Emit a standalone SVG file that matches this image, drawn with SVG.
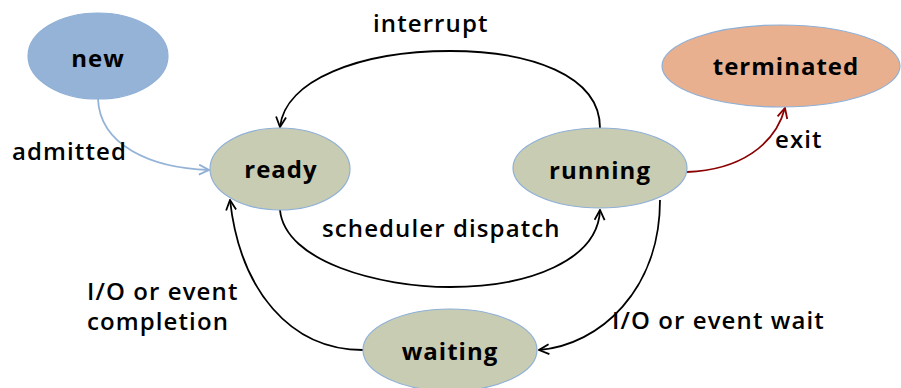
<svg xmlns="http://www.w3.org/2000/svg" width="901" height="388" viewBox="0 0 901 388">
  <style>
    .node { stroke: #8fb0d6; stroke-width: 1.2; }
    .name { font-family: "Comic Sans MS", "Open Sans", "Noto Sans", sans-serif; font-weight: bold; font-size: 24px; letter-spacing: 1px; text-anchor: middle; fill: #000; }
    .lbl { font-family: "Comic Sans MS", "Open Sans", "Noto Sans", sans-serif; font-weight: 600; font-size: 24px; letter-spacing: 1.1px; fill: #000; }
    .edge { fill: none; stroke: #000; stroke-width: 1.8; }
  </style>
  <defs>
    <marker id="arrow" viewBox="0 0 12 12" refX="11" refY="6" markerWidth="12" markerHeight="12" markerUnits="userSpaceOnUse" orient="auto">
      <path d="M1,1 L11,6 L1,11" fill="none" stroke="#000" stroke-width="1.8"/>
    </marker>
    <marker id="arrow-blue" viewBox="0 0 12 12" refX="11" refY="6" markerWidth="12" markerHeight="12" markerUnits="userSpaceOnUse" orient="auto">
      <path d="M1,1 L11,6 L1,11" fill="none" stroke="#8fb0d6" stroke-width="1.8"/>
    </marker>
    <marker id="arrow-red" viewBox="0 0 12 12" refX="11" refY="6" markerWidth="12" markerHeight="12" markerUnits="userSpaceOnUse" orient="auto">
      <path d="M1,1 L11,6 L1,11" fill="none" stroke="#8b0000" stroke-width="1.8"/>
    </marker>
  </defs>
  <rect width="901" height="388" fill="#fff"/>

  <g id="connectors">
    <path class="edge" style="stroke:#95b3d7" d="M98,99 C100,145 150,168 209,170" marker-end="url(#arrow-blue)"/>
    <path class="edge" d="M600,128 C600,75 530,51 450,51 C360,51 285,80 280,127" marker-end="url(#arrow)"/>
    <path class="edge" d="M280,210 C285,262 380,287 450,287 C530,287 598,260 600,210" marker-end="url(#arrow)"/>
    <path class="edge" style="stroke:#8b0000" d="M687,172 C740,170 775,145 785,108" marker-end="url(#arrow-red)"/>
    <path class="edge" d="M660,200 C660,290 600,345 539,350" marker-end="url(#arrow)"/>
    <path class="edge" d="M363,350 C290,350 240,290 230,200" marker-end="url(#arrow)"/>
  </g>

  <g id="node-new">
    <ellipse class="node" cx="98" cy="56" rx="70" ry="43" fill="#95b3d7"/>
    <text class="name" x="98" y="67">new</text>
  </g>
  <g id="node-ready">
    <ellipse class="node" cx="280" cy="169" rx="70" ry="41" fill="#c8ccb3"/>
    <text class="name" x="281" y="178">ready</text>
  </g>
  <g id="node-running">
    <ellipse class="node" cx="600" cy="168" rx="87" ry="40" fill="#c8ccb3"/>
    <text class="name" x="600" y="179">running</text>
  </g>
  <g id="node-terminated">
    <ellipse class="node" cx="781" cy="66" rx="119" ry="41" fill="#e9b090"/>
    <text class="name" x="786" y="75">terminated</text>
  </g>
  <g id="node-waiting">
    <ellipse class="node" cx="450" cy="350" rx="87" ry="41" fill="#c8ccb3"/>
    <text class="name" x="450" y="360">waiting</text>
  </g>

  <g id="labels">
    <text class="lbl" x="373" y="32">interrupt</text>
    <text class="lbl" x="12" y="160">admitted</text>
    <text class="lbl" x="775" y="148">exit</text>
    <text class="lbl" x="322" y="237">scheduler dispatch</text>
    <text class="lbl" x="87" y="300">I/O or event</text>
    <text class="lbl" x="87" y="330">completion</text>
    <text class="lbl" x="612" y="329">I/O or event wait</text>
  </g>
</svg>
